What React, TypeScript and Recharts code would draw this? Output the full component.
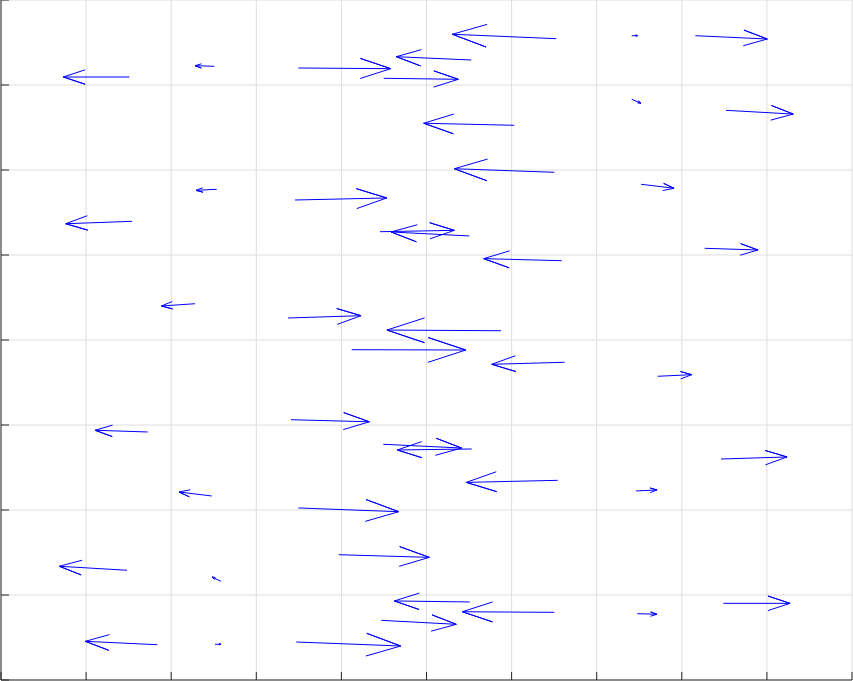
import React from 'react';
import { ScatterChart, Scatter, XAxis, YAxis, CartesianGrid } from 'recharts';

// Quiver data: tail positions (X, Y) and vector components (U, V) in data units
const X = [6.525, 5.526, 3.494, 4.497, 1.508, 2.507, 7.411, 8.159, 7.411, 8.519, 6.032, 6.502, 7.521, 2.535, 3.455, 1.539, 4.454, 5.503, 8.269, 6.589, 2.28, 3.373, 5.875, 4.121, 6.624, 7.717, 3.408, 1.724, 4.492, 5.531, 8.461, 6.542, 7.462, 2.476, 3.494, 3.968, 1.481, 2.585, 5.508, 6.502, 4.469, 7.477, 8.488, 1.837, 2.515, 3.47];
const Y = [7.545, 7.294, 7.2, 7.079, 7.094, 7.22, 7.58, 7.58, 6.832, 6.702, 6.526, 5.973, 5.832, 5.773, 5.647, 5.396, 5.274, 5.224, 5.079, 4.933, 4.427, 4.259, 4.109, 3.886, 3.738, 3.573, 3.062, 2.918, 2.773, 2.718, 2.6, 2.349, 2.224, 2.165, 2.024, 1.474, 1.291, 1.161, 0.918, 0.796, 0.702, 0.78, 0.902, 0.415, 0.42, 0.447];
const U = [-1.222, -0.881, 1.086, 0.877, -0.776, -0.227, 0.07, 0.846, 0.109, 0.791, -1.065, -1.175, 0.388, -0.243, 1.078, -0.779, 0.873, -0.92, 0.626, -0.917, -0.396, 0.858, -1.34, 1.34, -0.858, 0.4, 0.92, -0.619, 0.921, -0.874, 0.776, -1.074, 0.247, -0.384, 1.18, 1.065, -0.796, -0.106, -0.886, -1.081, 0.881, 0.231, 0.784, -0.846, 0.07, 1.227];
const V = [0.052, 0.039, -0.008, -0.012, 0, 0.007, 0, -0.039, -0.047, -0.044, 0.024, 0.042, -0.047, -0.012, 0.024, -0.028, 0.016, 0.047, -0.02, 0.024, -0.027, 0.027, 0.008, -0.004, -0.024, 0.019, -0.024, 0.02, -0.044, -0.012, 0.024, -0.024, 0.012, 0.047, -0.044, -0.031, 0.047, 0.051, 0.012, 0.007, -0.047, -0.007, 0, 0.04, 0, -0.047];

const X_TICKS = [0, 1, 2, 3, 4, 5, 6, 7, 8, 9, 10];
const Y_TICKS = [0, 1, 2, 3, 4, 5, 6, 7, 8];

const ALPHA = 0.33;
const BETA = 0.33;

function arrowPoints(i: number) {
  const x = X[i], y = Y[i], u = U[i], v = V[i];
  const tx = x + u, ty = y + v;
  return [
    { x, y },
    { x: tx, y: ty },
    { x: tx - ALPHA * (u + BETA * v), y: ty - ALPHA * (v - BETA * u) },
    { x: tx, y: ty },
    { x: tx - ALPHA * (u - BETA * v), y: ty - ALPHA * (v + BETA * u) },
  ];
}

const noShape = () => <g />;

export default function App() {
  return (
    <div style={{ position: 'absolute', left: 0, top: 0, background: '#fff' }}>
      <ScatterChart width={853} height={681} margin={{ top: 0, right: 1, bottom: 1, left: 1 }}>
        <CartesianGrid stroke="#dedede" strokeWidth={1} />
        <XAxis
          type="number"
          dataKey="x"
          domain={[0, 10]}
          ticks={X_TICKS}
          allowDataOverflow
          mirror
          tickSize={8}
          tickFormatter={() => ''}
          axisLine={{ stroke: '#262626' }}
          tickLine={{ stroke: '#262626' }}
        />
        <YAxis
          type="number"
          dataKey="y"
          domain={[0, 8]}
          ticks={Y_TICKS}
          allowDataOverflow
          mirror
          tickSize={8}
          tickFormatter={() => ''}
          axisLine={{ stroke: '#262626' }}
          tickLine={{ stroke: '#262626' }}
        />
        {X.map((_, i) => (
          <Scatter
            key={i}
            data={arrowPoints(i)}
            line={{ stroke: '#0000ff', strokeWidth: 1 }}
            lineType="joint"
            shape={noShape}
            isAnimationActive={false}
          />
        ))}
      </ScatterChart>
    </div>
  );
}
